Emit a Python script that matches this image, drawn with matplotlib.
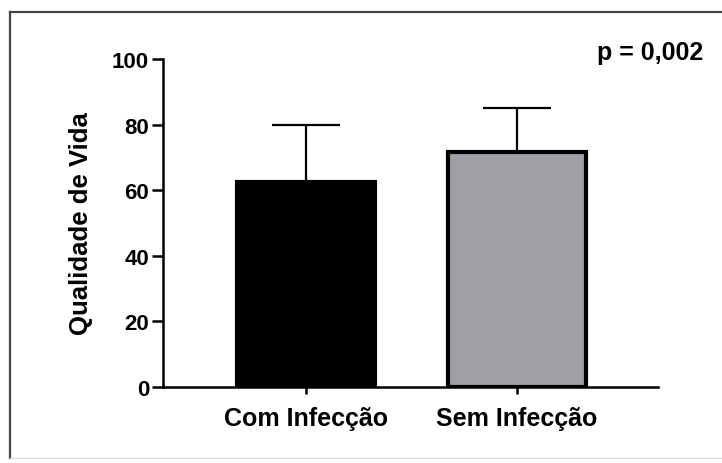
import matplotlib
matplotlib.use("Agg")
import matplotlib.pyplot as plt
from matplotlib.lines import Line2D

plt.rcParams['font.family'] = ['Liberation Sans', 'DejaVu Sans']
plt.rcParams['font.weight'] = 'bold'

# data
groups = ["Com Infecção", "Sem Infecção"]
means = [62.5, 71.5]
sd_upper = [17.5, 13.5]
bar_colors = ["#000000", "#a0a0a4"]
y_ticks = [0, 20, 40, 60, 80, 100]
p_text = "p = 0,002"

fig = plt.figure(figsize=(7.22, 4.64), dpi=100)
ax = fig.add_axes([163 / 722, 1 - 388 / 464, 495 / 722, 328 / 464])

x = list(range(len(groups)))
ax.bar(x, means, width=0.655, color=bar_colors, edgecolor="black", linewidth=3, zorder=2)
ax.errorbar(x, means, yerr=[[0, 0], sd_upper], fmt="none", ecolor="black",
            elinewidth=1.6, capsize=24.5, capthick=1.6, zorder=1)

ax.set_xlim(-0.678, 1.668)
ax.set_ylim(0, 100)
ax.set_yticks(y_ticks)
ax.set_xticks(x)
ax.set_xticklabels(groups, fontsize=18, fontweight="bold")
ax.tick_params(axis="y", labelsize=16, length=8, width=1.8, pad=2)
ax.tick_params(axis="x", length=5, width=1.8, pad=9)
for lab in ax.get_yticklabels():
    lab.set_fontweight("bold")

for s in ["top", "right"]:
    ax.spines[s].set_visible(False)
for s in ["left", "bottom"]:
    ax.spines[s].set_linewidth(1.8)

ax.set_ylabel("Qualidade de Vida", fontsize=18.5, fontweight="bold", labelpad=14)

fig.text(703 / 722, 1 - 60 / 464, p_text, fontsize=18, fontweight="bold",
         ha="right", va="baseline")

# outer frame
fig.add_artist(Line2D([10 / 722, 10 / 722], [1 - 13 / 464, 1 - 459 / 464],
                      transform=fig.transFigure, color="#444444", linewidth=1.6))
fig.add_artist(Line2D([10 / 722, 1.0], [1 - 13 / 464, 1 - 13 / 464],
                      transform=fig.transFigure, color="#444444", linewidth=1.6))
fig.add_artist(Line2D([10 / 722, 1.0], [1 - 459 / 464, 1 - 459 / 464],
                      transform=fig.transFigure, color="#dddddd", linewidth=1.0))

fig.savefig("out.png", dpi=100)
